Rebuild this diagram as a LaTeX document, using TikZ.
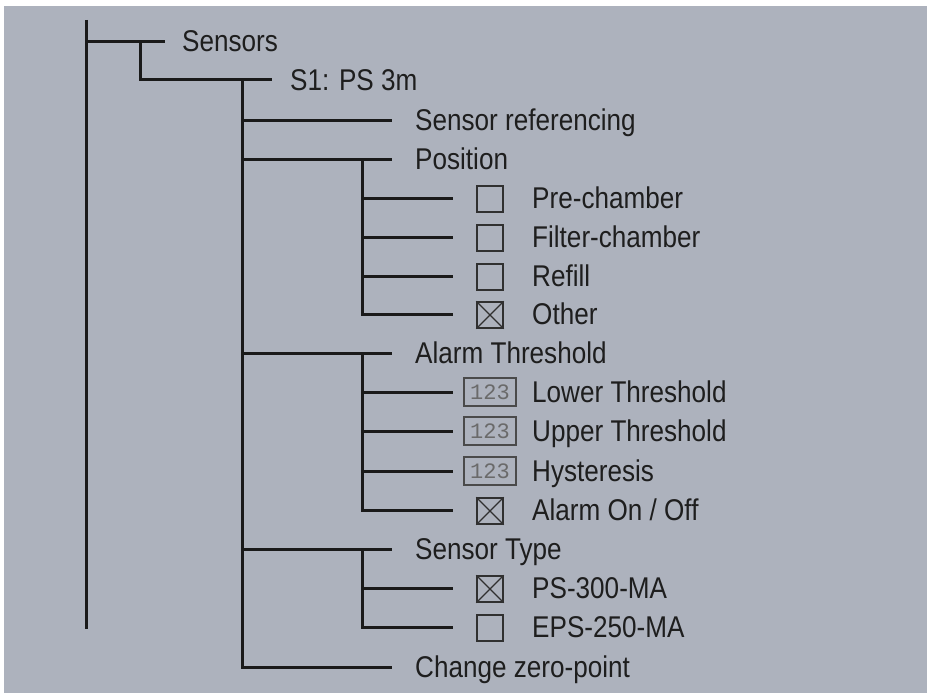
\documentclass[tikz,border=0pt]{standalone}
\usepackage{fontspec}
\setmainfont[FakeStretch=0.87]{Liberation Sans}
\newfontfamily\numfont{Liberation Mono}
\definecolor{bg}{HTML}{ADB2BD}
\definecolor{wirecol}{HTML}{1A1A1A}
\definecolor{txtcol}{HTML}{1E1E1E}
\definecolor{boxcol}{HTML}{303030}
\definecolor{numbox}{HTML}{4A4A4A}
\definecolor{numtxt}{HTML}{6A6A6A}
\tikzset{
  wire/.style={line width=3pt, draw=wirecol},
  lbl/.style={anchor=base west, inner sep=0pt, font=\fontsize{30}{36}\selectfont, text=txtcol},
  chkbox/.style={draw=boxcol, line width=1.4pt, minimum width=26pt, minimum height=26pt, inner sep=0pt, anchor=center},
  numbox/.style={draw=numbox, line width=1.8pt, minimum width=52pt, minimum height=28pt, inner sep=0pt, anchor=center,
     font=\numfont\fontsize{22}{24}\selectfont, text=numtxt},
  xmark/.style={draw=boxcol, line width=1.2pt}
}
\begin{document}
\begin{tikzpicture}[x=1pt,y=-1pt]
\useasboundingbox (0,0) rectangle (929,693);
\fill[white] (0,0) rectangle (929,693);
\fill[bg] (4,6) rectangle (927,693);

% ---- level 0 trunk
\coordinate (t0) at (86,20);
\coordinate (t1) at (86,629);
\draw[wire] (t0) -- (t1);

% ---- Sensors
\coordinate (tS) at (86,42);
\coordinate (sEnd) at (165,42);
\node[lbl] (sensors) at (182,52) {Sensors};
\draw[wire] (tS) -- (sEnd);
\coordinate (sJ) at (140,42);
\coordinate (s1End) at (272,80);
\draw[wire] (sJ) |- (s1End);
\node[lbl] (s1) at (290,90) {S1: PS 3m};

% ---- S1 children
\coordinate (a0) at (242,80);
\coordinate (a1) at (242,667);
\draw[wire] (a0) -- (a1) -- (392,667);
\foreach \nm/\yy/\tx in {ref/120/Sensor referencing, pos/159/Position, alt/353/Alarm Threshold, typ/549/Sensor Type, zero/667/Change zero-point}{
  \coordinate (\nm L) at (242,\yy);
  \coordinate (\nm R) at (392,\yy);
  \draw[wire] (\nm L) -- (\nm R);
  \node[lbl] (\nm) at (415,\yy+10) {\tx};
}

% ---- level 3 verticals
\draw[wire] (362,159) -- (362,314) -- (453,314);
\draw[wire] (362,353) -- (362,510) -- (453,510);
\draw[wire] (362,549) -- (362,627) -- (453,627);

% ---- level 3 rows
\foreach \nm/\yy/\tx/\kind in {
  pre/198/Pre-chamber/e, fil/237/Filter-chamber/e, ref2/276/Refill/e, oth/314/Other/x,
  low/392/Lower Threshold/n, upp/431/Upper Threshold/n, hys/471/Hysteresis/n, alm/510/{Alarm On / Off}/x,
  ps/588/PS-300-MA/x, eps/627/EPS-250-MA/e}{
  \coordinate (\nm L) at (362,\yy);
  \coordinate (\nm R) at (453,\yy);
  \draw[wire] (\nm L) -- (\nm R);
  \node[lbl] (\nm) at (532,\yy+10) {\tx};
  \if\kind n
    \node[numbox] (\nm B) at (490,\yy) {123};
  \else
    \node[chkbox] (\nm B) at (490,\yy+1) {};
    \if\kind x
      \draw[xmark] (\nm B.north west) -- (\nm B.south east);
      \draw[xmark] (\nm B.north east) -- (\nm B.south west);
    \fi
  \fi
}
\end{tikzpicture}
\end{document}
